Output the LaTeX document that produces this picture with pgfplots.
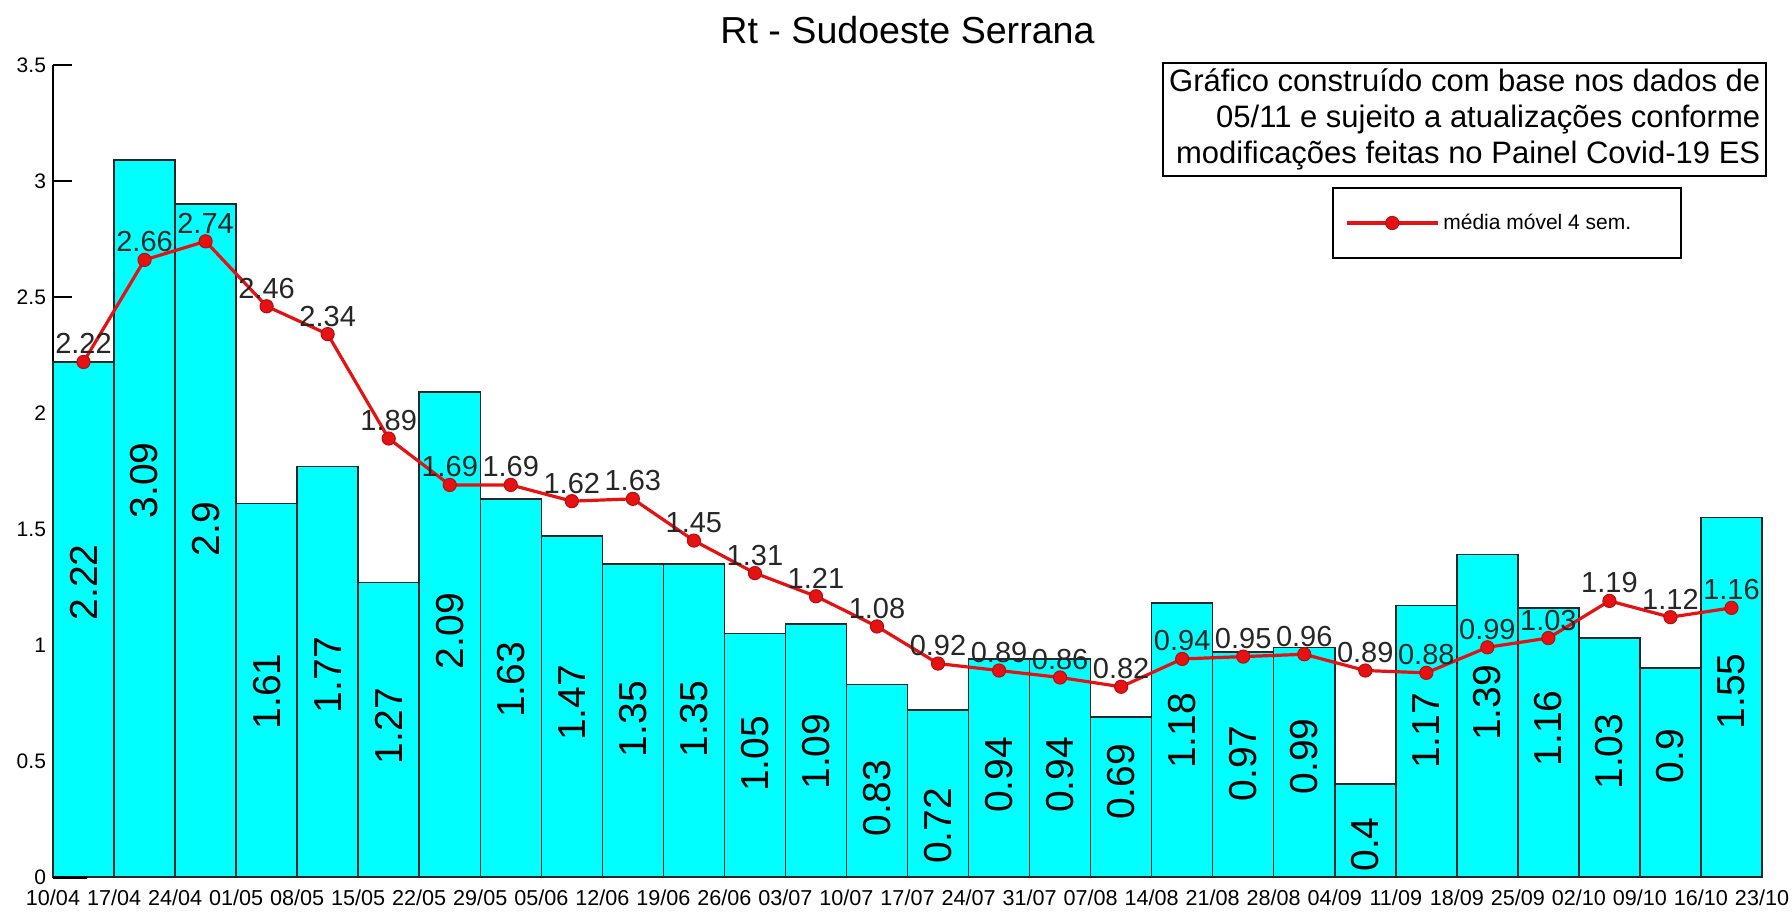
\documentclass[border=0pt]{standalone}
\usepackage{pgfplots}
\pgfplotsset{compat=1.18}
\usepackage{pgfplotstable}
\usepackage{fontspec}
\setmainfont{Liberation Sans}
\definecolor{lred}{RGB}{228,18,18}
\definecolor{bcyan}{RGB}{0,255,255}
\pgfplotstableread{
x bar lp avg
0.5 2.22 1.27 2.22
1.5 3.09 1.71 2.66
2.5 2.9 1.50 2.74
3.5 1.61 0.80 2.46
4.5 1.77 0.87 2.34
5.5 1.27 0.65 1.89
6.5 2.09 1.06 1.69
7.5 1.63 0.85 1.69
8.5 1.47 0.75 1.62
9.5 1.35 0.68 1.63
10.5 1.35 0.68 1.45
11.5 1.05 0.53 1.31
12.5 1.09 0.54 1.21
13.5 0.83 0.34 1.08
14.5 0.72 0.22 0.92
15.5 0.94 0.44 0.89
16.5 0.94 0.44 0.86
17.5 0.69 0.41 0.82
18.5 1.18 0.63 0.94
19.5 0.97 0.49 0.95
20.5 0.99 0.52 0.96
21.5 0.4 0.14 0.89
22.5 1.17 0.63 0.88
23.5 1.39 0.75 0.99
24.5 1.16 0.64 1.03
25.5 1.03 0.54 1.19
26.5 0.9 0.52 1.12
27.5 1.55 0.80 1.16
}\data
\begin{document}
\begin{tikzpicture}
\begin{axis}[
  at={(0pt,0pt)}, anchor=south west,
  scale only axis, width=854.5pt, height=406pt,
  xmin=0, xmax=28, ymin=0, ymax=3.5,
  clip=false,
  axis y line*=left, axis x line*=bottom,
  axis line style={line width=1pt, black},
  xtick={0,...,28},
  xticklabels={10/04,17/04,24/04,01/05,08/05,15/05,22/05,29/05,05/06,12/06,19/06,26/06,03/07,10/07,17/07,24/07,31/07,07/08,14/08,21/08,28/08,04/09,11/09,18/09,25/09,02/10,09/10,16/10,23/10},
  xtick style={draw=none},
  ytick={0,0.5,1,1.5,2,2.5,3,3.5},
  tick align=inside, major tick length=9.5pt,
  ytick style={line width=1pt, black},
  /pgf/number format/assume math mode=true,
  xticklabel style={font=\fontsize{10.8}{12}\selectfont, yshift=-3pt},
  yticklabel style={font=\fontsize{10.5}{12}\selectfont},
  title={Rt - Sudoeste Serrana},
  title style={anchor=base, yshift=5pt, font=\fontsize{18.8}{21}\selectfont},
  legend style={at={(0.9532,0.8498)}, anchor=north east, draw=black, line width=0.8pt,
    inner xsep=6pt, inner ysep=11pt, font=\fontsize{10.5}{12}\selectfont, legend cell align=left},
  legend image code/.code={\draw[mark repeat=2,mark phase=2,#1] plot coordinates {(0pt,0pt) (22.75pt,0pt) (45.5pt,0pt)};},
]
\addplot[ybar, bar width=1, bar shift=0pt, fill=bcyan, draw=black!85, line width=0.75pt, forget plot]
  table[x=x, y=bar] {\data};
\addplot[black, line width=1.5pt, forget plot] coordinates {(0,0) (0.55,0)};
\addplot[draw=none, forget plot, nodes near coords, point meta=explicit symbolic,
  nodes near coords style={rotate=90, anchor=center, inner sep=0pt, font=\fontsize{19.5}{19.5}\selectfont}]
  table[x=x, y=lp, meta=bar] {\data};
\addplot[color=lred, line width=1.6pt, mark=*, mark size=3.3pt,
  mark options={fill=lred, draw=lred!80!black, line width=0.5pt},
  nodes near coords, point meta=explicit symbolic,
  nodes near coords style={anchor=base, yshift=4pt, inner sep=0pt, text=black!85, font=\fontsize{14.5}{15}\selectfont}]
  table[x=x, y=avg, meta=avg] {\data};
\addlegendentry{média móvel 4 sem.\hspace*{17pt}}
\node[draw=black, line width=0.8pt, anchor=north east, align=right, inner xsep=3pt, inner ysep=3pt,
  font=\fontsize{15.5}{18}\selectfont] at (rel axis cs:1.00293,1.0037)
  {Gráfico construído com base nos dados de\\05/11 e sujeito a atualizações conforme\\modificações feitas no Painel Covid-19 ES};
\end{axis}
\pgfresetboundingbox
\path[use as bounding box] (-26.5pt,-17pt) rectangle (869.5pt,438.5pt);
\end{tikzpicture}
\end{document}
